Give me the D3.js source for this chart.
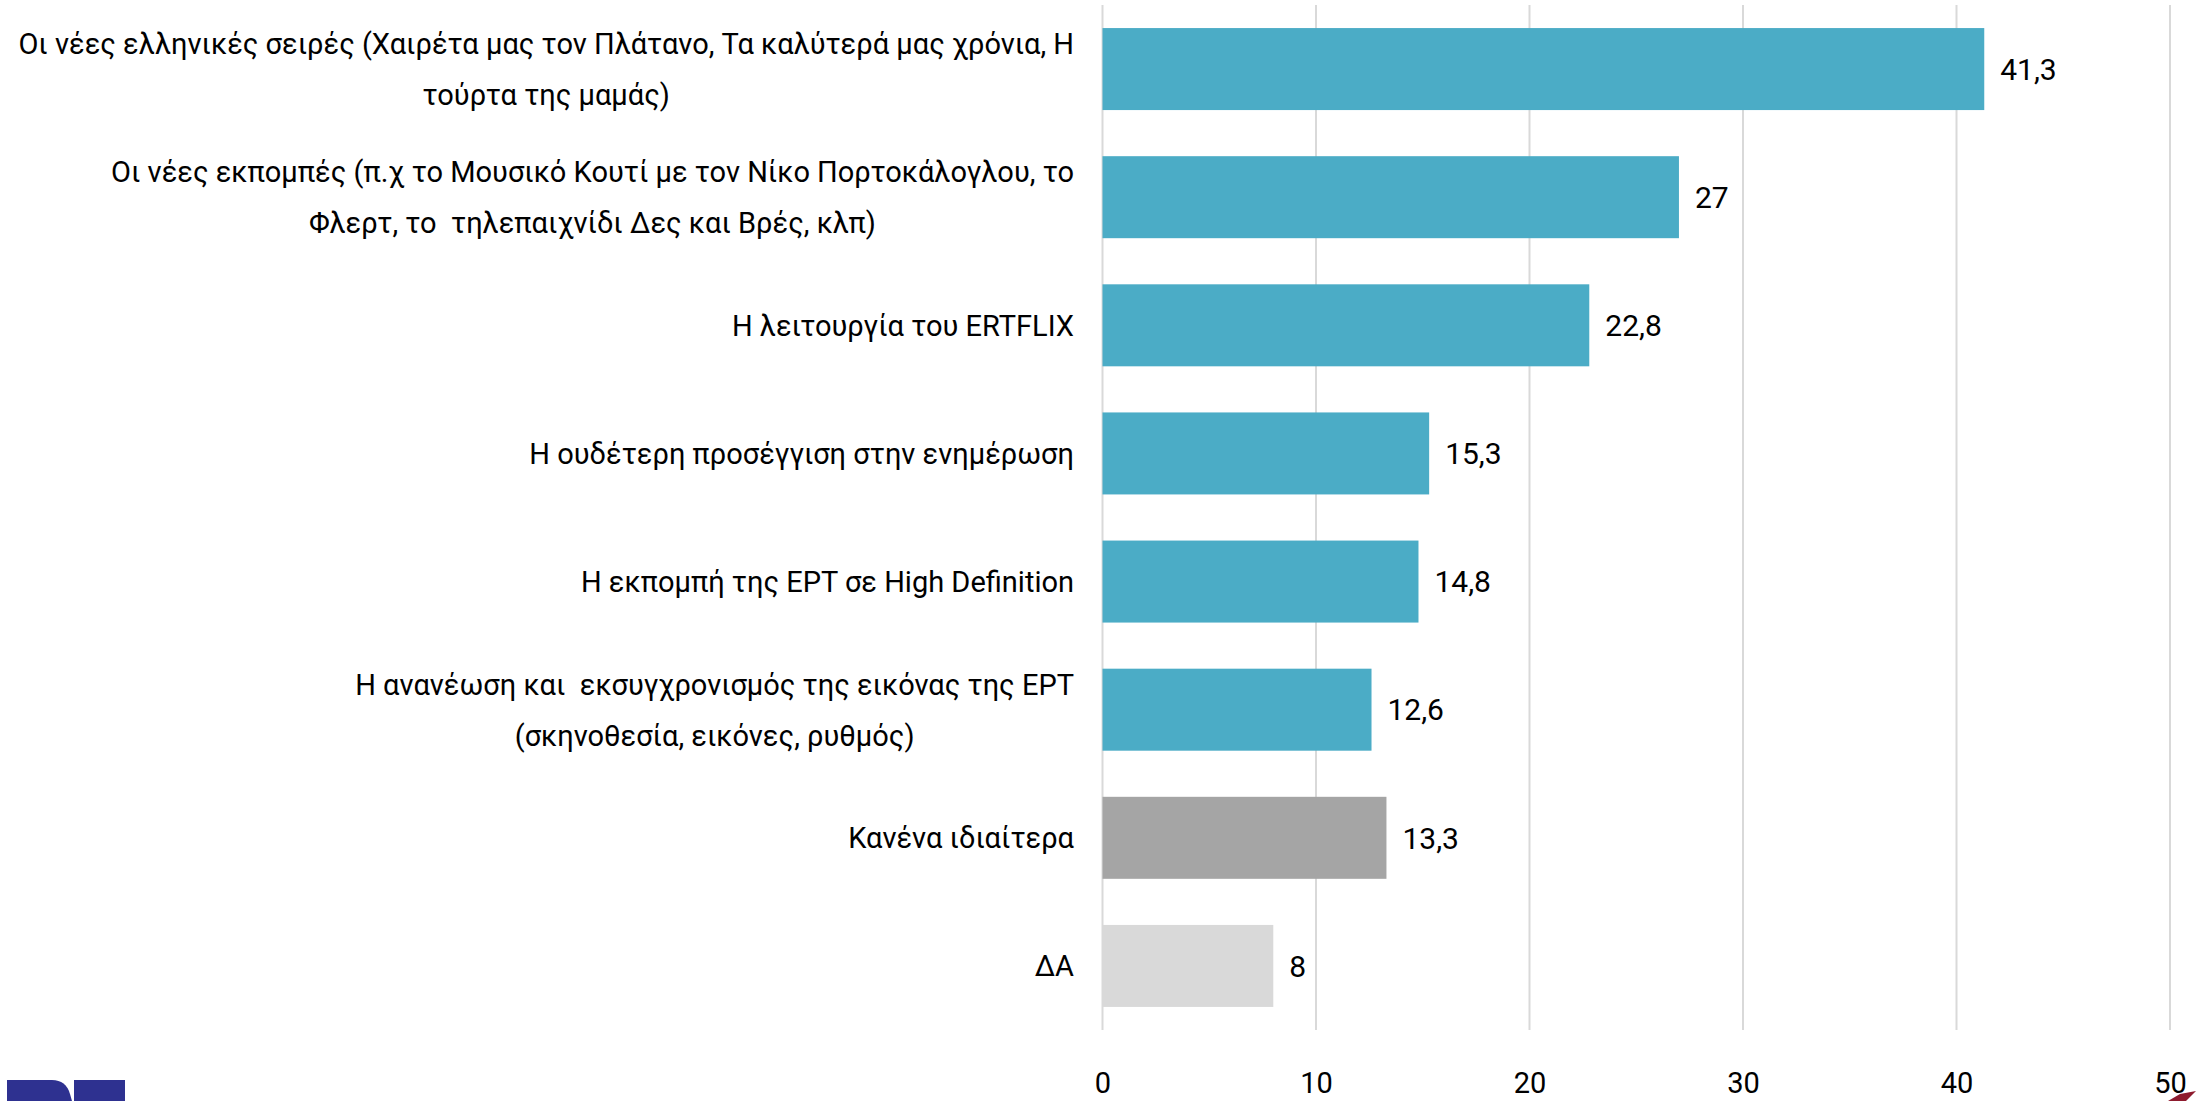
<!DOCTYPE html>
<html>
<head>
<meta charset="utf-8">
<script src="https://cdn.jsdelivr.net/npm/d3@7"></script>
<style>
  html, body { margin: 0; padding: 0; background: #fff; }
  svg { display: block; }
  text { font-family: Roboto, "Noto Sans", sans-serif; fill: #000; white-space: pre; }
</style>
</head>
<body>
<svg id="chart" width="2202" height="1101"></svg>
<script>
// ---- data ----
const categories = [
  ["Οι νέες ελληνικές σειρές (Χαιρέτα μας τον Πλάτανο, Τα καλύτερά μας χρόνια, Η", "τούρτα της μαμάς)"],
  ["Οι νέες εκπομπές (π.χ το Μουσικό Κουτί με τον Νίκο Πορτοκάλογλου, το", "Φλερτ, το  τηλεπαιχνίδι Δες και Βρές, κλπ)"],
  ["Η λειτουργία του ERTFLIX"],
  ["Η ουδέτερη προσέγγιση στην ενημέρωση"],
  ["Η εκπομπή της ΕΡΤ σε High Definition"],
  ["Η ανανέωση και  εκσυγχρονισμός της εικόνας της ΕΡΤ", "(σκηνοθεσία, εικόνες, ρυθμός)"],
  ["Κανένα ιδιαίτερα"],
  ["ΔΑ"]
];
const values = [41.3, 27, 22.8, 15.3, 14.8, 12.6, 13.3, 8];
const barColors = ["#4BACC6", "#4BACC6", "#4BACC6", "#4BACC6", "#4BACC6", "#4BACC6", "#A5A5A5", "#D9D9D9"];
const xTicks = [0, 10, 20, 30, 40, 50];

// ---- layout ----
const svg = d3.select("#chart");
const plotLeft = 1102.5, plotRight = 2170, plotTop = 5, plotBottom = 1030;
const labelRight = 1074;
const labelFont = 29;
const valueFont = 30;
const tickFont = 29;

const x = d3.scaleLinear().domain([0, 50]).range([plotLeft, plotRight]);
const idx = d3.range(values.length);
const y = d3.scaleBand().domain(idx).range([plotTop, plotBottom])
  .paddingInner(0.36).paddingOuter(0.18);

const fmt = v => String(v).replace(".", ",");

// gridlines
svg.append("g").selectAll("line").data(xTicks).join("line")
  .attr("x1", d => x(d)).attr("x2", d => x(d))
  .attr("y1", plotTop).attr("y2", plotBottom)
  .attr("stroke", "#D9D9D9").attr("stroke-width", 2);

// x axis tick labels
const xAxis = d3.axisBottom(x).tickValues(xTicks).tickSize(0).tickPadding(0).tickFormat(d => d);
const ax = svg.append("g").attr("transform", `translate(0, 1093)`).call(xAxis);
ax.select(".domain").remove();
ax.selectAll("text").attr("font-size", tickFont).attr("font-family", "Roboto, 'Noto Sans', sans-serif")
  .attr("fill", "#000").attr("y", 0).attr("dy", "0em");

// bars
svg.append("g").selectAll("rect").data(idx).join("rect")
  .attr("x", x(0)).attr("y", i => y(i))
  .attr("width", i => x(values[i]) - x(0))
  .attr("height", y.bandwidth())
  .attr("fill", i => barColors[i]);

// value labels
svg.append("g").selectAll("text").data(idx).join("text")
  .attr("x", i => x(values[i]) + 16)
  .attr("y", i => y(i) + y.bandwidth() / 2)
  .attr("dy", "0.36em")
  .attr("font-size", valueFont)
  .text(i => fmt(values[i]));

// category labels
const lineH = 51;
const lab = svg.append("g");
idx.forEach(i => {
  const lines = categories[i];
  const cy = y(i) + y.bandwidth() / 2;
  const g = lab.append("g");
  const ts = lines.map((t, k) => g.append("text")
    .attr("font-size", labelFont)
    .attr("y", cy + (k - (lines.length - 1) / 2) * lineH)
    .attr("dy", "0.36em")
    .attr("text-anchor", "middle")
    .text(t));
  const maxW = d3.max(ts, t => t.node().getComputedTextLength());
  ts.forEach(t => t.attr("x", labelRight - maxW / 2));
});

// logo fragment bottom-left
svg.append("path")
  .attr("d", "M7,1080 L52,1080 Q66,1080 70,1094 L72,1101 L7,1101 Z")
  .attr("fill", "#2E3190");
svg.append("path")
  .attr("d", "M74,1080 L125,1080 L125,1101 L74,1101 Z")
  .attr("fill", "#2E3190");
// decorative mark bottom-right
svg.append("path")
  .attr("d", "M2168,1101 L2180,1094 L2196,1091 L2186,1101 Z")
  .attr("fill", "#8E1B2E");
</script>
</body>
</html>
